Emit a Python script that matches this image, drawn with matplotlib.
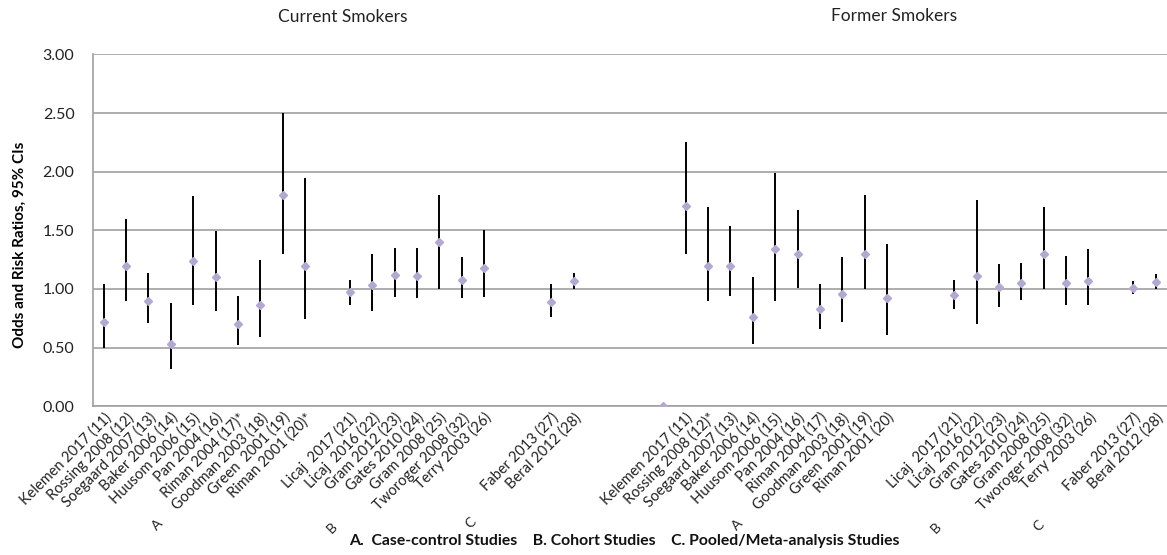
import numpy as np
import matplotlib.pyplot as plt

plt.rcParams['font.family'] = ['Lato', 'DejaVu Sans']

# study labels (A = case-control, B = cohort, C = pooled/meta-analysis)
cur_case_labels = ['Kelemen 2017 (11)', 'Rossing 2008 (12)', 'Soegaard 2007 (13)',
                   'Baker 2006 (14)', 'Huusom 2006 (15)', 'Pan 2004 (16)',
                   'Riman 2004 (17)*', 'Goodman 2003 (18)', 'Green  2001 (19)',
                   'Riman 2001 (20)*']
for_case_labels = ['Kelemen 2017 (11)', 'Rossing 2008 (12)*', 'Soegaard 2007 (13)',
                   'Baker 2006 (14)', 'Huusom 2006 (15)', 'Pan 2004 (16)',
                   'Riman 2004 (17)', 'Goodman 2003 (18)', 'Green  2001 (19)',
                   'Riman 2001 (20)']
cohort_labels = ['Licaj  2017 (21)', 'Licaj  2016 (22)', 'Gram 2012 (23)',
                 'Gates 2010 (24)', 'Gram 2008 (25)', 'Tworoger 2008 (32)',
                 'Terry 2003 (26)']
pooled_labels = ['Faber 2013 (27)', 'Beral 2012 (28)']

# current smokers: estimate, lower CI, upper CI
cur_est = [0.72, 1.20, 0.90, 0.53, 1.24, 1.10, 0.70, 0.86, 1.80, 1.20,
           0.97, 1.03, 1.12, 1.11, 1.40, 1.08, 1.18,
           0.89, 1.07]
cur_lo = [0.50, 0.90, 0.71, 0.32, 0.86, 0.81, 0.52, 0.59, 1.30, 0.74,
          0.86, 0.81, 0.93, 0.92, 1.00, 0.92, 0.93,
          0.76, 1.00]
cur_hi = [1.04, 1.60, 1.14, 0.88, 1.79, 1.49, 0.94, 1.25, 2.50, 1.95,
          1.08, 1.30, 1.35, 1.35, 1.80, 1.27, 1.50,
          1.04, 1.14]

# former smokers
for_est = [1.71, 1.20, 1.20, 0.76, 1.34, 1.30, 0.83, 0.96, 1.30, 0.92,
           0.95, 1.11, 1.02, 1.05, 1.30, 1.05, 1.07,
           1.01, 1.06]
for_lo = [1.30, 0.90, 0.94, 0.53, 0.90, 1.01, 0.66, 0.72, 1.00, 0.61,
          0.83, 0.70, 0.85, 0.91, 1.00, 0.86, 0.86,
          0.96, 1.00]
for_hi = [2.25, 1.70, 1.54, 1.10, 1.99, 1.67, 1.04, 1.27, 1.80, 1.38,
          1.08, 1.76, 1.21, 1.22, 1.70, 1.28, 1.34,
          1.07, 1.13]

# spacer point sitting between the two panels
spacer_est = [0.0]

grey = '#a0a0a0'
marker_col = '#b3a8d1'


def slots(start, sizes, gaps):
    pos = []
    x = start
    for i, n in enumerate(sizes):
        pos.extend(range(x, x + n))
        x += n
        if i < len(gaps):
            x += gaps[i]
    return pos


cur_x = slots(0, [10, 7, 2], [1, 2])
spacer_x = [cur_x[-1] + 4]
for_x = slots(spacer_x[0] + 1, [10, 7, 2], [2, 1])

fig = plt.figure(figsize=(11.67, 5.55), dpi=100)
ax = fig.add_axes([0.0793, 0.268, 0.9205, 0.634])

for xs, est, lo, hi in [(cur_x, cur_est, cur_lo, cur_hi),
                        (for_x, for_est, for_lo, for_hi)]:
    ax.vlines(xs, lo, hi, color='black', lw=1.4, zorder=3)
    ax.plot(xs, est, 'D', color=marker_col, ms=4, mec=marker_col, zorder=4)
ax.plot(spacer_x, spacer_est, 'D', color=marker_col, ms=4, zorder=4)

ax.set_xlim(-0.5, for_x[-1] + 0.5)
ax.set_ylim(0, 3)
ax.set_yticks(np.arange(0, 3.01, 0.5))
ax.set_yticklabels([f'{v:.2f}' for v in np.arange(0, 3.01, 0.5)], fontsize=11.5,
                   color='#222222')
ax.yaxis.grid(True, color=grey, lw=1.2)
ax.set_axisbelow(True)
ax.tick_params(axis='y', length=0, pad=13)
ax.tick_params(axis='x', length=0, pad=3)
for s in ['top', 'right']:
    ax.spines[s].set_visible(False)
ax.spines['left'].set_color(grey)
ax.spines['bottom'].set_color(grey)
ax.spines['left'].set_linewidth(1.2)
ax.spines['bottom'].set_linewidth(1.2)

all_x = cur_x + for_x
all_labels = (cur_case_labels + cohort_labels + pooled_labels +
              for_case_labels + cohort_labels + pooled_labels)
ax.set_xticks(all_x)
ax.set_xticklabels(all_labels, rotation=45, ha='right', rotation_mode='anchor',
                   fontsize=10.5, color='#222222')

ax.set_ylabel('Odds and Risk Ratios, 95% CIs', fontsize=11, fontweight='bold',
              va='center')
ax.yaxis.set_label_coords(-0.0676, 0.46)

# group letters under the study names
tr = ax.get_xaxis_transform()
for xpos, ypos, letter in [(2.4, -0.337, 'A'), (10.2, -0.347, 'B'), (16.4, -0.331, 'C'),
                           (28.3, -0.337, 'A'), (37.2, -0.346, 'B'), (41.8, -0.339, 'C')]:
    ax.text(xpos, ypos, letter, transform=tr, rotation=45, ha='center', va='center',
            fontsize=10, color='#222222')

ax.text(10.7, 1.105, 'Current Smokers', transform=tr, ha='center', va='center',
        fontsize=12.5, color='#222222')
ax.text(35.3, 1.11, 'Former Smokers', transform=tr, ha='center', va='center',
        fontsize=12.5, color='#222222')

fig.text(0.535, 0.025, 'A.  Case-control Studies    B. Cohort Studies    '
         'C. Pooled/Meta-analysis Studies', ha='center', va='center',
         fontsize=11.3, fontweight='bold', color='#111111')

fig.savefig('out.png', dpi=100)
